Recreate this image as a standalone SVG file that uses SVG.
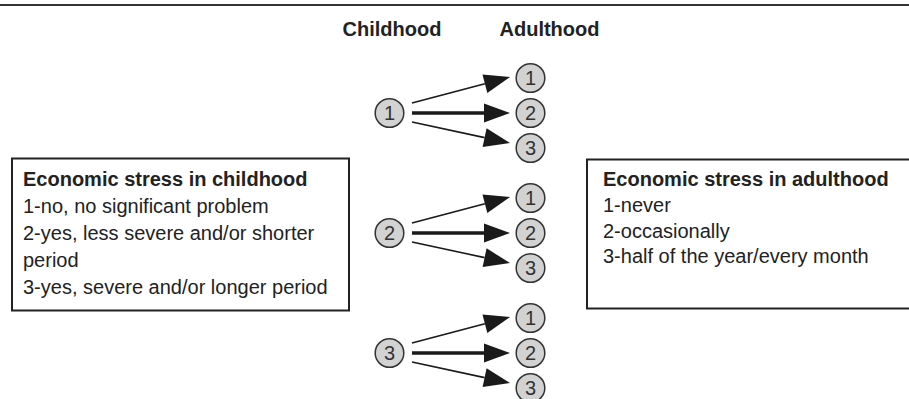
<svg xmlns="http://www.w3.org/2000/svg" width="909" height="399" viewBox="0 0 909 399">
<style>
.t{font-family:"Liberation Sans",Arial,sans-serif;fill:#222}
.b{font-weight:bold}
.box{fill:#fff;stroke:#222;stroke-width:2}
.n circle{fill:#d2d2d2;stroke:#333;stroke-width:1.5}
.n text{font-family:"Liberation Sans",Arial,sans-serif;font-size:20px;fill:#333;text-anchor:middle}
.thin{stroke:#1a1a1a;stroke-width:1.6;fill:none}
.thick{stroke:#1a1a1a;stroke-width:3.6;fill:none}
</style>
<defs>
<marker id="ah" markerUnits="userSpaceOnUse" markerWidth="27" markerHeight="20" refX="0" refY="9.5" orient="auto" overflow="visible">
<path d="M0,0 L26,9.5 L0,19 Z" fill="#1a1a1a"/>
</marker>
</defs>
<line x1="0" y1="5" x2="909" y2="5" stroke="#333" stroke-width="2"/>
<text class="t b" x="342.5" y="36" font-size="20">Childhood</text>
<text class="t b" x="499.5" y="36" font-size="20">Adulthood</text>

<g id="box-childhood">
<rect class="box" x="12" y="158.5" width="337" height="152"/>
<text class="t b" x="23" y="186" font-size="20">Economic stress in childhood</text>
<text class="t" x="23" y="213" font-size="20">1-no, no significant problem</text>
<text class="t" x="23" y="240" font-size="20">2-yes, less severe and/or shorter</text>
<text class="t" x="23" y="267" font-size="20">period</text>
<text class="t" x="23" y="294" font-size="20">3-yes, severe and/or longer period</text>
</g>
<g id="box-adulthood">
<rect class="box" x="587" y="159.5" width="340" height="149"/>
<text class="t b" x="603" y="186" font-size="20">Economic stress in adulthood</text>
<text class="t" x="603" y="212" font-size="20">1-never</text>
<text class="t" x="603" y="237.5" font-size="20">2-occasionally</text>
<text class="t" x="603" y="263" font-size="20">3-half of the year/every month</text>
</g>

<g id="connectors">
<line class="thin" x1="412" y1="103" x2="484.9" y2="83.7" marker-end="url(#ah)"/>
<line class="thick" x1="412" y1="113" x2="484" y2="113" marker-end="url(#ah)"/>
<line class="thin" x1="412" y1="122" x2="484.6" y2="137.6" marker-end="url(#ah)"/>
<line class="thin" x1="412" y1="223" x2="484.9" y2="203.7" marker-end="url(#ah)"/>
<line class="thick" x1="412" y1="233" x2="484" y2="233" marker-end="url(#ah)"/>
<line class="thin" x1="412" y1="242" x2="484.6" y2="257.6" marker-end="url(#ah)"/>
<line class="thin" x1="412" y1="343" x2="484.9" y2="323.7" marker-end="url(#ah)"/>
<line class="thick" x1="412" y1="353" x2="484" y2="353" marker-end="url(#ah)"/>
<line class="thin" x1="412" y1="362" x2="484.6" y2="377.6" marker-end="url(#ah)"/>
</g>

<g id="c1" class="n"><circle cx="389.5" cy="113" r="14.3"/><text x="389.5" y="120">1</text></g>
<g id="c2" class="n"><circle cx="389.5" cy="233" r="14.3"/><text x="389.5" y="240">2</text></g>
<g id="c3" class="n"><circle cx="389.5" cy="353" r="14.3"/><text x="389.5" y="360">3</text></g>

<g id="a1-1" class="n"><circle cx="530.5" cy="78" r="14.3"/><text x="530.5" y="85">1</text></g>
<g id="a1-2" class="n"><circle cx="530.5" cy="113" r="14.3"/><text x="530.5" y="120">2</text></g>
<g id="a1-3" class="n"><circle cx="530.5" cy="148" r="14.3"/><text x="530.5" y="155">3</text></g>
<g id="a2-1" class="n"><circle cx="530.5" cy="198" r="14.3"/><text x="530.5" y="205">1</text></g>
<g id="a2-2" class="n"><circle cx="530.5" cy="233" r="14.3"/><text x="530.5" y="240">2</text></g>
<g id="a2-3" class="n"><circle cx="530.5" cy="268" r="14.3"/><text x="530.5" y="275">3</text></g>
<g id="a3-1" class="n"><circle cx="530.5" cy="318" r="14.3"/><text x="530.5" y="325">1</text></g>
<g id="a3-2" class="n"><circle cx="530.5" cy="353" r="14.3"/><text x="530.5" y="360">2</text></g>
<g id="a3-3" class="n"><circle cx="530.5" cy="388" r="14.3"/><text x="530.5" y="395">3</text></g>
</svg>
